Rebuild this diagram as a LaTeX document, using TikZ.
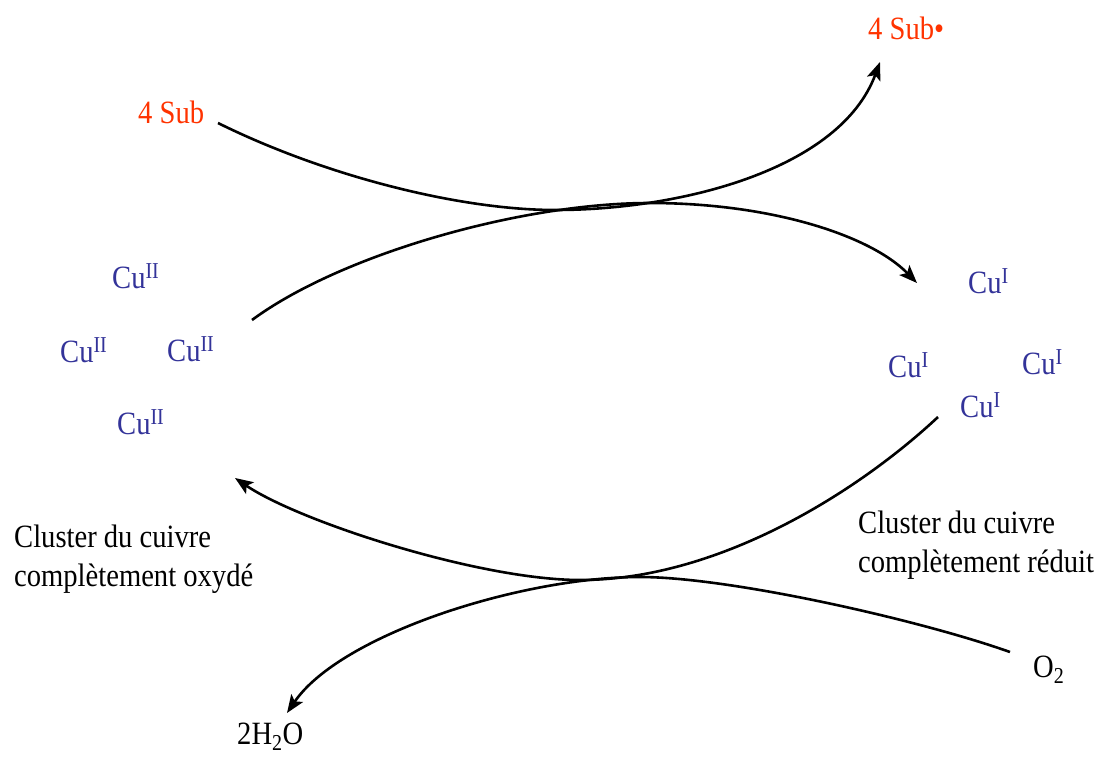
\documentclass[tikz,border=0pt]{standalone}
\usepackage{fontspec}
\setmainfont{Liberation Serif}[FakeStretch=0.88]
\usetikzlibrary{arrows.meta}

\definecolor{subred}{RGB}{255,51,0}
\definecolor{cublue}{RGB}{51,51,153}

\begin{document}
\begin{tikzpicture}[x=1pt,y=-1pt,
    every node/.style={inner sep=0pt,anchor=base west,font=\fontsize{32.5}{38.5}\selectfont},
    sub/.style={text=subred},
    cu/.style={text=cublue},
    arc/.style={line width=2.6pt,-{Stealth[length=18pt,width=14pt,inset=4pt]}}]
    \useasboundingbox (0,0) rectangle (1096,756);

    % substrate and radical
    \node[sub] (sub) at (138,123) {4 Sub};
    \node[sub] (subrad) at (868,39) {4 Sub•};

    % oxidised cluster
    \node[cu] (cuiiA) at (112,288) {Cu\textsuperscript{II}};
    \node[cu] (cuiiB) at (60,362) {Cu\textsuperscript{II}};
    \node[cu] (cuiiC) at (167,361) {Cu\textsuperscript{II}};
    \node[cu] (cuiiD) at (117,434) {Cu\textsuperscript{II}};

    % reduced cluster
    \node[cu] (cuiA) at (968,293) {Cu\textsuperscript{I}};
    \node[cu] (cuiB) at (888,377) {Cu\textsuperscript{I}};
    \node[cu] (cuiC) at (1022,374) {Cu\textsuperscript{I}};
    \node[cu] (cuiD) at (960,417) {Cu\textsuperscript{I}};

    % base = last line here
    \node[align=left] (oxlabel) at (14,586) {Cluster du cuivre\\complètement oxydé};
    \node[align=left] (redlabel) at (858,572) {Cluster du cuivre\\complètement réduit};

    % dioxygen and water
    \node (o2) at (1033,677) {O\textsubscript{2}};
    \node (water) at (237,744) {2H\textsubscript{2}O};

    % free ends of the arcs
    \coordinate (subfrom) at (218,123);
    \coordinate (subto) at (880,62);
    \coordinate (upmin) at (555,210);
    \coordinate (oxfrom) at (252,320);
    \coordinate (redto) at (917,283);
    \coordinate (upmax) at (650,203);
    \coordinate (redfrom) at (938,417);
    \coordinate (oxto) at (235,478);
    \coordinate (lowmax) at (580,580);
    \coordinate (o2from) at (1010,652);
    \coordinate (waterto) at (287,713);
    \coordinate (lowmin) at (640,577);

    \draw[arc] (subfrom) .. controls (325,176) and (460,210) .. (upmin)
        .. controls (680,210) and (840,170) .. (subto);
    \draw[arc] (oxfrom) .. controls (340,255) and (520,203) .. (upmax)
        .. controls (770,203) and (870,235) .. (redto);
    \draw[arc] (redfrom) .. controls (860,490) and (720,580) .. (lowmax)
        .. controls (480,580) and (300,522) .. (oxto);
    \draw[arc] (o2from) .. controls (920,620) and (730,577) .. (lowmin)
        .. controls (520,577) and (340,635) .. (waterto);
\end{tikzpicture}
\end{document}
